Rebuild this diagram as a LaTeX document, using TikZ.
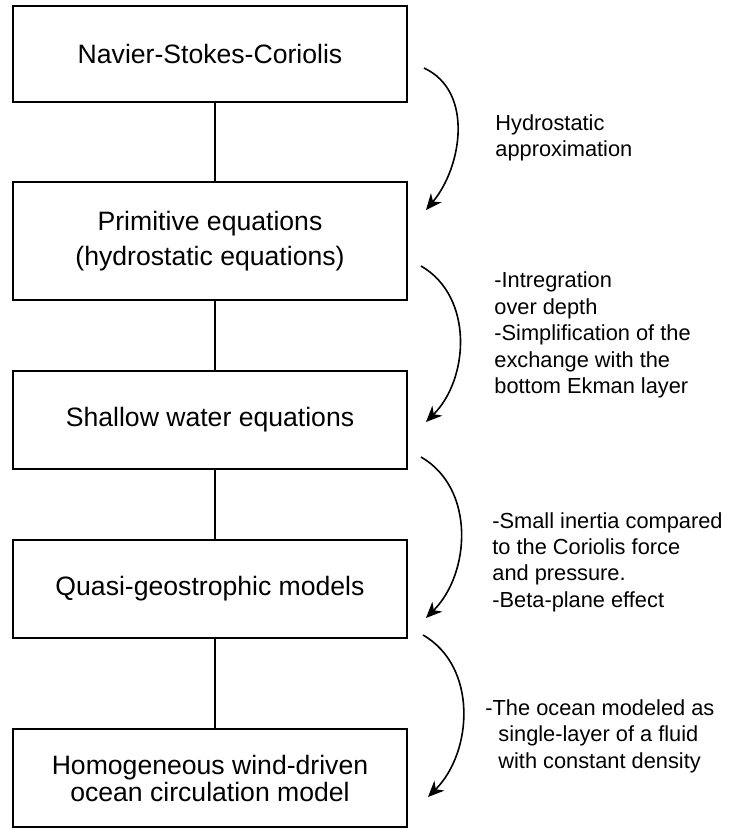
\documentclass[tikz,border=0pt]{standalone}
\usepackage{fontspec}
\setmainfont{Liberation Sans}
\usetikzlibrary{arrows.meta}

\tikzset{
  stage/.style={draw, line width=0.9pt, minimum width=197pt, inner sep=0pt,
    align=center, font=\fontsize{13.3}{17.5}\selectfont},
  link/.style={line width=0.6pt},
  flow/.style={line width=0.8pt, -{Stealth[length=8pt,width=7pt,inset=2.5pt]}},
  note/.style={anchor=west, inner sep=0pt, align=left,
    font=\fontsize{10.9}{13.2}\selectfont}
}

\begin{document}
\begin{tikzpicture}[x=0.5pt,y=0.5pt]
    \useasboundingbox (0,0) rectangle (729,-830);
    % the chain of models
    \node[stage, minimum height=48pt] (nsc) at (210,-54) {Navier-Stokes-Coriolis};
    \node[stage, minimum height=59pt] (prim) at (210,-241)
      {Primitive equations\\(hydrostatic equations)};
    \node[stage, minimum height=49pt] (shallow) at (210,-420) {Shallow water equations};
    \node[stage, minimum height=49pt] (qg) at (210,-589) {Quasi-geostrophic models};
    \node[stage, minimum height=49pt, font=\fontsize{13.3}{13.5}\selectfont] (wind)
      at (210,-778) {Homogeneous wind-driven\\ocean circulation model};
    \draw[link] ([xshift=2.5pt]nsc.south) to ([xshift=2.5pt]prim.north);
    \draw[link] ([xshift=2.5pt]prim.south) to ([xshift=2.5pt]shallow.north);
    \draw[link] ([xshift=2.5pt]shallow.south) to ([xshift=2.5pt]qg.north);
    \draw[link] ([xshift=2.5pt]qg.south) to ([xshift=2.5pt]wind.north);
    % approximations
    \coordinate (a1s) at (424,-68);  \coordinate (a1e) at (426,-210);
    \coordinate (a2s) at (421,-266); \coordinate (a2e) at (426,-422);
    \coordinate (a3s) at (421,-457); \coordinate (a3e) at (426,-618);
    \coordinate (a4s) at (423,-635); \coordinate (a4e) at (428,-797);
    \draw[flow] (a1s) to [out=-25,in=50] (a1e);
    \draw[flow] (a2s) to [out=-30,in=45] (a2e);
    \draw[flow] (a3s) to [out=-30,in=45] (a3e);
    \draw[flow] (a4s) to [out=-30,in=45] (a4e);
    \node[note] (hyd) at (495,-138) {Hydrostatic\\approximation};
    \node[note] (depth) at (494,-335)
      {-Intregration\\over depth\\-Simplification of the\\exchange with the\\bottom Ekman layer};
    \node[note] (inertia) at (492,-562)
      {-Small inertia compared\\to the Coriolis force\\and pressure.\\-Beta-plane effect};
    \node[note] (ocean) at (485,-736)
      {-The ocean modeled as\\\hspace*{6.5pt}single-layer of a fluid\\\hspace*{6.5pt}with constant density};
\end{tikzpicture}
\end{document}
